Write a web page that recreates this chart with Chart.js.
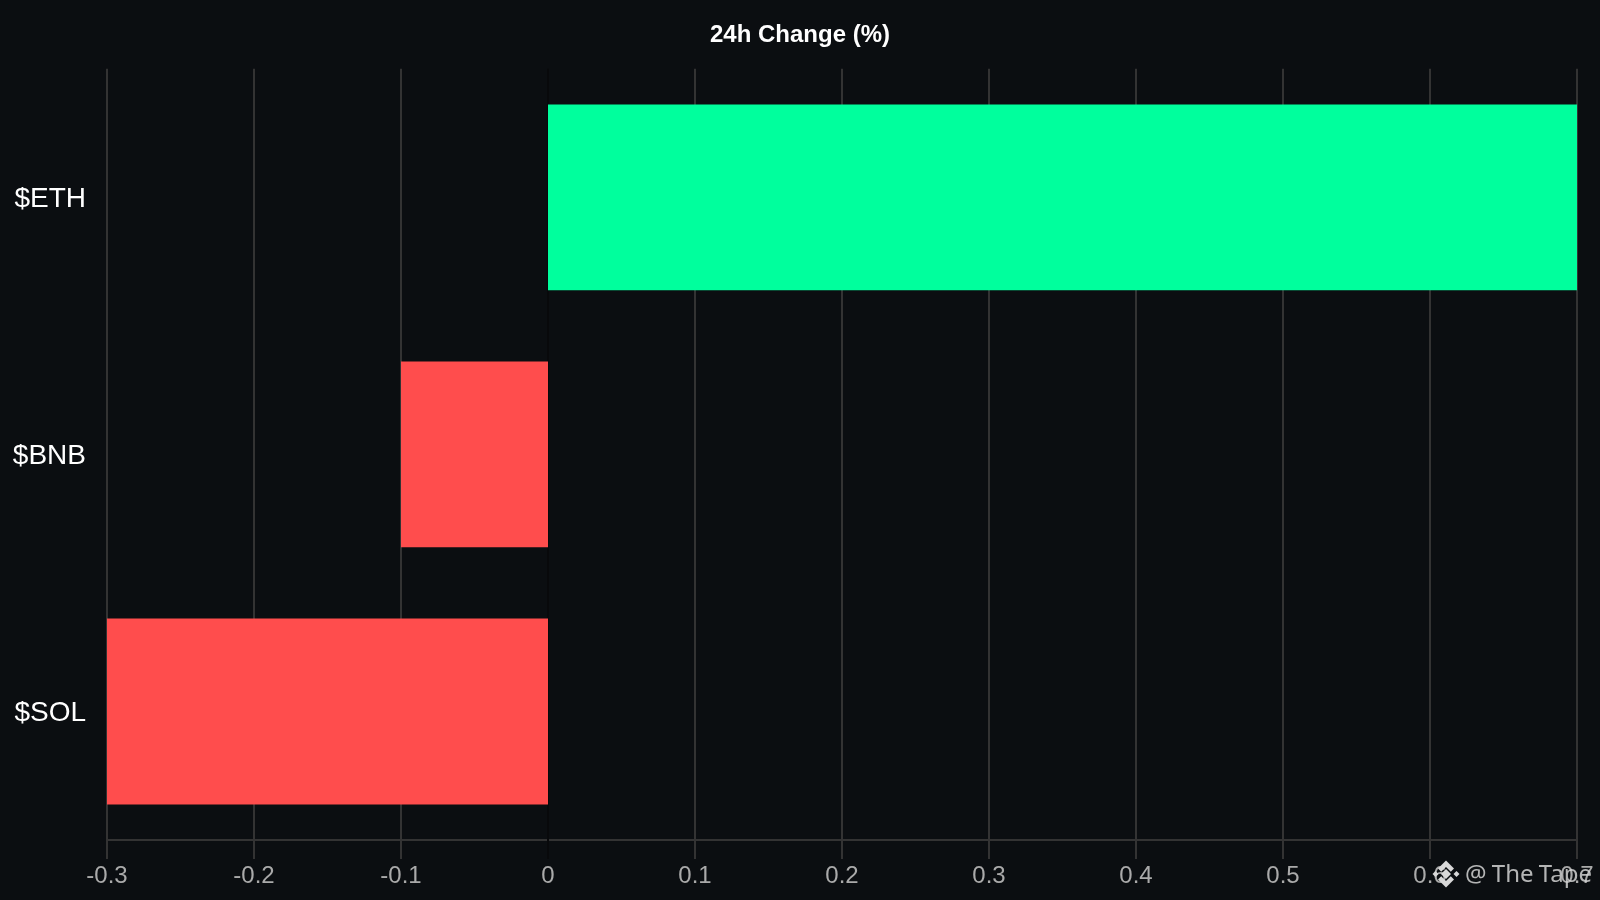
<!DOCTYPE html>
<html>
<head>
<meta charset="utf-8">
<script src="https://cdn.jsdelivr.net/npm/chart.js@4"></script>
<style>
html,body{margin:0;padding:0;width:1600px;height:900px;overflow:hidden;background:#0b0e11}
#box{position:absolute;left:0;top:0;width:1600px;height:900px}
#wm{position:absolute;left:1431px;top:855px;height:34px;display:flex;align-items:center;color:rgba(210,210,210,.85);font:24px "Noto Sans",sans-serif;white-space:nowrap;word-spacing:-1px}
#wm svg{width:30px;height:30px;margin-right:4px;position:relative;top:2px}
</style>
</head>
<body>
<div id="box"><canvas id="c"></canvas></div>
<div id="wm"><svg viewBox="0 0 30 30"><g fill="#d8d8d8"><path d="M15 1.500l8 8-3.200 3.200L15 7.900l-4.800 4.800L7 9.500z"/><path d="M15 28.500l8-8-3.200-3.200-4.800 4.800-4.800-4.800L7 20.500z"/><path d="M1.500 15l3-3 3 3-3 3z"/><path d="M22.500 15l3-3 3 3-3 3z"/><path d="M15 10l5 5-5 5-5-5z"/></g></svg><span>@ The Tape</span></div>
<script>
const categories = ['$ETH', '$BNB', '$SOL'];
const changes = [0.7, -0.1, -0.3];
const xTicks = [-0.3, -0.2, -0.1, 0, 0.1, 0.2, 0.3, 0.4, 0.5, 0.6, 0.7];
const barColors = ['#00ff9d', '#ff4d4d', '#ff4d4d'];
Chart.defaults.animation = false;
const helpers = {
  id: 'helpers',
  afterLayout(chart) {
    chart.titleBlock.left = 0;
    chart.titleBlock.right = chart.width;
  },
  beforeDatasetsDraw(chart) {
    const x = chart.scales.x.getPixelForValue(0), g = chart.ctx;
    g.save(); g.strokeStyle = '#08090b'; g.lineWidth = 2;
    g.beginPath(); g.moveTo(x, chart.chartArea.top); g.lineTo(x, chart.chartArea.bottom + 19); g.stroke(); g.restore();
  }
};
new Chart(document.getElementById('c'), {
  type: 'bar',
  plugins: [helpers],
  data: { labels: categories, datasets: [{ data: changes, backgroundColor: barColors, borderWidth: 0, categoryPercentage: 1, barPercentage: 0.723 }] },
  options: {
    indexAxis: 'y', responsive: true, maintainAspectRatio: false,
    layout: { padding: { top: 0, right: 23, left: 0, bottom: 0 } },
    plugins: {
      legend: { display: false }, tooltip: { enabled: false },
      title: { display: true, text: '24h Change (%)', color: '#ffffff', font: { family: '"Liberation Sans"', size: 24, weight: 'bold' }, padding: { top: 21, bottom: 19 } }
    },
    scales: {
      x: {
        min: -0.3, max: 0.7, afterBuildTicks(a) { a.ticks = xTicks.map(v => ({ value: v })); },
        afterFit(a) { a.height = 60; },
        grid: { color: '#333333', lineWidth: c => c.tick && c.tick.value === 0 ? 0 : 2, drawTicks: true, tickLength: 19 },
        border: { display: true, color: '#333333', width: 2 },
        ticks: { color: '#aaaaaa', autoSkip: false, maxRotation: 0, padding: 3, font: { family: '"Liberation Sans"', size: 24 }, callback: v => String(v) }
      },
      y: {
        afterFit(a) { a.width = 107; },
        grid: { display: false, drawTicks: false }, border: { display: false },
        ticks: { color: '#ffffff', padding: 21, labelOffset: 2, font: { family: '"Liberation Sans"', size: 28 } }
      }
    }
  }
});
</script>
</body>
</html>
